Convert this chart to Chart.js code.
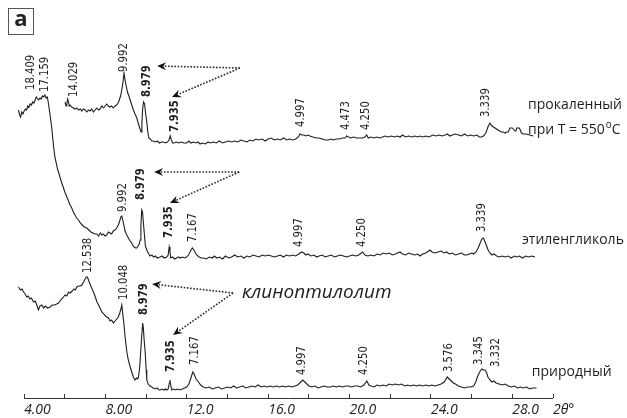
<!DOCTYPE html>
<html><head><meta charset="utf-8">
<script src="https://cdn.jsdelivr.net/npm/chart.js@4.4.1/dist/chart.umd.min.js"></script>
<style>html,body{margin:0;padding:0;background:#fff;}canvas{display:block;}</style>
</head><body>
<canvas id="c" width="627" height="418"></canvas>
<script>
// ---- x axis ticks (2θ, degrees) ----
const tickValues = [4,6,8,10,12,14,16,18,20,22,24,26,28,30];
const tickLabels = ['4.00','','8.00','','12.0','','16.0','','20.0','','24.0','','28.0','2θ°'];

// ---- природный (natural) ----
const natTheta = [3.72,3.82,3.90,3.97,4.05,4.13,4.20,4.28,4.36,4.46,4.55,4.62,4.70,4.78,4.87,4.95,5.05,5.15,5.28,5.38,5.50,5.60,5.69,5.80,5.90,6.01,6.10,6.18,6.26,6.36,6.45,6.52,6.59,6.68,6.76,6.84,6.92,7.00,7.05,7.11,7.18,7.26,7.34,7.41,7.50,7.58,7.66,7.73,7.82,7.92,8.00,8.06,8.15,8.22,8.30,8.39,8.47,8.55,8.63,8.70,8.76,8.80,8.85,8.91,8.98,9.05,9.12,9.20,9.29,9.37,9.45,9.52,9.58,9.62,9.68,9.73,9.78,9.83,9.86,9.90,9.95,10.00,10.03,10.10,10.18,10.27,10.35,10.45,10.55,10.62,10.68,10.78,10.88,10.95,11.01,11.08,11.14,11.17,11.22,11.26,11.35,11.45,11.55,11.67,11.78,11.88,11.99,12.10,12.20,12.29,12.36,12.45,12.57,12.68,12.80,12.95,13.10,13.25,13.40,13.55,13.70,13.85,14.00,14.15,14.30,14.45,14.60,14.75,14.90,15.05,15.20,15.35,15.50,15.65,15.80,15.95,16.10,16.25,16.40,16.55,16.70,16.85,17.00,17.15,17.30,17.45,17.60,17.70,17.80,17.90,18.00,18.15,18.30,18.45,18.60,18.75,18.90,19.05,19.20,19.35,19.50,19.65,19.80,19.95,20.10,20.25,20.40,20.55,20.70,20.85,20.95,21.05,21.20,21.35,21.50,21.65,21.80,21.95,22.10,22.25,22.40,22.55,22.70,22.85,23.00,23.15,23.30,23.45,23.60,23.75,23.90,24.05,24.20,24.35,24.50,24.65,24.80,24.90,25.00,25.10,25.20,25.35,25.50,25.65,25.80,25.95,26.10,26.20,26.30,26.42,26.50,26.58,26.66,26.74,26.80,26.90,27.00,27.10,27.20,27.35,27.50,27.65,27.80,27.95,28.10,28.25,28.40,28.55,28.70,28.85,29.00,29.19];
const natI = [111,108,109,106,104,101,102,99,100,96,97,93,88,92,93,90,92,90,91,93,93,94,95,98,100,103,102,106,105,107,109,108,111,112,112,113,116,119,121,121,117,113,109,106,101,96,93,90,86,84,82,81,80,77,78,75,77,79,81,85,89,93,84,73,58,46,38,32,26,21,18,20,19,21,30,46,62,75,70,58,46,28,18,14,12,11,10,9,10,8,8,9,8,9,8,9,15,18,11,8,9,8,9,8,9,10,11,14,20,26,24,19,16,13,11,10,11,9,10,11,9,10,11,10,12,10,11,12,10,11,12,11,13,11,12,11,12,11,12,11,12,11,12,11,12,13,16,18,16,14,12,11,12,10,11,12,11,11,12,11,12,11,12,12,11,12,12,11,13,17,13,12,11,13,12,13,12,14,13,14,13,14,12,13,12,13,12,13,12,13,12,13,12,13,14,16,21,19,17,15,14,12,11,10,11,11,12,16,22,27,29,28,28,25,21,18,16,17,15,14,13,14,12,11,12,10,11,10,11,9,10,10];

// ---- этиленгликоль (ethylene glycol) ----
const egTheta = [3.72,3.78,3.83,3.88,3.94,4.00,4.06,4.12,4.18,4.24,4.30,4.36,4.42,4.48,4.54,4.60,4.66,4.72,4.78,4.84,4.90,4.96,5.02,5.08,5.14,5.20,5.24,5.30,5.36,5.40,5.44,5.48,5.52,5.58,5.64,5.69,5.76,5.85,5.92,6.00,6.10,6.18,6.26,6.34,6.42,6.50,6.58,6.67,6.76,6.86,6.96,7.08,7.18,7.28,7.38,7.48,7.57,7.66,7.74,7.82,7.90,7.98,8.06,8.14,8.23,8.30,8.38,8.47,8.55,8.63,8.70,8.75,8.80,8.85,8.90,8.96,9.05,9.15,9.22,9.29,9.36,9.42,9.48,9.54,9.60,9.66,9.70,9.74,9.78,9.82,9.86,9.91,9.96,10.03,10.10,10.19,10.28,10.36,10.45,10.55,10.68,10.78,10.88,11.01,11.08,11.13,11.17,11.21,11.30,11.40,11.50,11.60,11.67,11.78,11.88,11.99,12.08,12.18,12.27,12.35,12.42,12.49,12.60,12.70,12.81,12.95,13.10,13.25,13.35,13.47,13.60,13.75,13.90,14.05,14.20,14.35,14.50,14.65,14.80,14.95,15.10,15.25,15.40,15.55,15.70,15.85,16.00,16.15,16.30,16.45,16.60,16.75,16.90,17.05,17.20,17.35,17.50,17.65,17.75,17.85,17.95,18.10,18.25,18.38,18.50,18.65,18.80,18.95,19.10,19.25,19.40,19.55,19.70,19.85,20.00,20.15,20.30,20.45,20.64,20.75,20.90,21.05,21.20,21.35,21.50,21.65,21.80,21.95,22.10,22.25,22.48,22.60,22.75,22.90,23.05,23.20,23.35,23.46,23.60,23.75,23.95,24.05,24.20,24.35,24.50,24.65,24.77,24.90,25.05,25.20,25.35,25.50,25.65,25.75,25.90,26.00,26.10,26.22,26.32,26.42,26.50,26.58,26.66,26.74,26.81,26.90,27.00,27.10,27.23,27.35,27.50,27.65,27.80,27.95,28.10,28.21,28.35,28.50,28.65,28.80,28.95,29.11];
const egI = [288,283,281,286,284,287,289,288,292,291,294,293,296,295,298,301,299,298,300,299,302,301,303,300,301,294,288,279,270,261,253,246,240,235,229,226,221,215,211,206,201,197,193,190,186,183,180,178,175,173,171,170,168,166,165,164,164,162,165,163,164,162,163,166,165,164,167,168,170,173,177,181,182,178,173,167,163,159,157,155,152,151,150,150,152,154,158,172,188,186,176,164,152,148,145,142,143,141,142,140,141,142,140,141,143,151,146,140,141,139,140,141,140,141,140,141,143,147,150,148,145,143,141,140,140,139,141,140,142,140,141,139,142,140,141,143,141,142,140,142,141,143,142,141,143,142,143,142,141,142,143,141,143,142,143,142,144,146,145,143,144,142,143,141,142,143,141,142,143,141,142,143,142,141,142,143,142,143,146,143,142,143,142,144,143,145,144,145,143,144,146,144,143,145,144,143,144,142,144,145,148,146,145,146,147,145,146,144,145,143,144,145,143,143,144,145,144,146,150,155,159,160,156,152,148,145,143,144,142,141,142,141,142,140,142,141,142,140,142,141,142,141];

// ---- прокаленный при T = 550°C (calcined) ----
const calTheta = [6.01,6.06,6.10,6.14,6.18,6.22,6.26,6.34,6.42,6.50,6.59,6.68,6.76,6.84,6.91,7.00,7.08,7.16,7.24,7.32,7.41,7.49,7.57,7.65,7.73,7.82,7.90,7.98,8.06,8.14,8.22,8.30,8.38,8.47,8.55,8.62,8.68,8.74,8.80,8.86,8.91,8.96,9.02,9.08,9.15,9.21,9.29,9.37,9.45,9.54,9.62,9.70,9.75,9.79,9.83,9.87,9.92,9.97,10.03,10.08,10.13,10.20,10.28,10.35,10.45,10.55,10.65,10.75,10.85,10.95,11.05,11.12,11.18,11.24,11.30,11.37,11.48,11.60,11.72,11.85,11.99,12.10,12.20,12.32,12.45,12.55,12.65,12.75,12.90,13.05,13.14,13.30,13.45,13.60,13.75,13.90,14.05,14.20,14.35,14.50,14.65,14.80,14.95,15.10,15.25,15.40,15.55,15.70,15.85,16.00,16.15,16.30,16.45,16.60,16.75,16.91,17.05,17.20,17.35,17.48,17.56,17.65,17.75,17.85,17.95,18.05,18.20,18.38,18.50,18.65,18.80,18.95,19.10,19.20,19.35,19.50,19.65,19.78,19.86,19.95,20.05,20.20,20.35,20.50,20.65,20.75,20.84,20.92,21.05,21.20,21.35,21.49,21.62,21.75,21.90,22.05,22.20,22.35,22.48,22.60,22.75,22.90,23.05,23.20,23.35,23.46,23.60,23.75,23.90,24.00,24.11,24.25,24.40,24.55,24.70,24.80,24.93,25.05,25.20,25.35,25.50,25.65,25.80,25.95,26.10,26.25,26.38,26.49,26.58,26.70,26.80,26.90,27.00,27.15,27.30,27.45,27.55,27.65,27.72,27.80,27.88,28.00,28.13,28.18,28.21,28.35,28.45,28.54,28.70,28.85,29.03];
const calI = [296,292,294,299,296,292,293,291,290,289,290,288,289,287,289,288,286,288,287,289,286,288,290,288,289,292,290,292,294,292,291,292,290,292,293,295,298,302,308,316,325,318,312,306,302,298,293,288,284,280,274,269,266,275,290,296,294,285,276,266,260,259,257,257,256,257,255,256,256,255,256,258,262,258,255,255,256,255,256,255,255,257,255,256,255,256,254,255,254,256,255,256,255,257,255,256,257,256,257,256,258,257,256,258,257,259,258,259,257,259,260,258,259,258,260,258,259,258,259,261,264,263,263,262,263,262,261,260,260,259,258,258,259,258,259,259,260,260,262,261,260,261,260,260,260,261,263,260,261,260,261,260,261,262,261,262,261,262,261,263,261,262,261,262,261,262,261,262,261,262,263,262,263,262,263,264,262,263,264,263,262,264,262,263,262,263,261,261,262,265,271,275,272,270,268,266,266,265,266,266,270,270,267,267,270,270,265,264,264,263,262,261,259];

// ---- peak d-spacing annotations: text, 2θ, intensity at text start, bold ----
const peakText  = ['18.409','17.159','14.029','9.992','8.979','7.935','4.997','4.473','4.250','3.339',
                   '9.992','8.979','7.935','7.167','4.997','4.250','3.339',
                   '12.538','10.048','8.979','7.935','7.167','4.997','4.250','3.576','3.345','3.332'];
const peakTheta = [4.34,5.03,6.41,8.91,10.00,11.42,17.61,19.82,20.81,26.70,
                   8.82,9.75,11.08,12.30,17.51,20.61,26.51,
                   7.14,8.91,9.85,11.22,12.40,17.66,20.71,24.88,26.36,27.19];
const peakBase  = [308,306,301,326,301,266,271,268,268,281,
                   186,198,160,156,151,151,166,
                   125,98,83,26,33,23,23,26,33,31];
const peakBold  = [0,0,0,0,1,1,0,0,0,0, 0,1,1,0,0,0,0, 0,0,1,1,0,0,0,0,0,0];

// ---- series names: text, 2θ of left edge, intensity of text centre ----
const seriesText  = ['прокаленный','при T = 550','этиленгликоль','природный'];
const seriesTheta = [28.77,28.77,28.47,28.96];
const seriesPos   = [293,268,158,26];
const mineralText = 'клиноптилолит';
const mineralTheta = 14.71, mineralPos = 105;

// ---- dotted arrows: apex -> tips (2θ, intensity) ----
const arrowApexTheta = [14.61,14.57,14.27];
const arrowApexI     = [330,226,105];
const arrowTip1Theta = [10.54,10.39,10.29];
const arrowTip1I     = [332,226,114];
const arrowTip2Theta = [11.27,11.17,11.32];
const arrowTip2I     = [301,195,63];

const toPts = (xs, ys) => xs.map((x, i) => ({x, y: ys[i]}));
const ink = '#1e1e1e';

function arrow(ctx, x0, y0, x1, y1) {
  ctx.save();
  ctx.strokeStyle = '#2a2a2a';
  ctx.lineWidth = 1.6;
  ctx.setLineDash([1.6, 1.6]);
  const ang = Math.atan2(y1 - y0, x1 - x0);
  const L = 9;
  const ex = x1 - Math.cos(ang) * (L - 2), ey = y1 - Math.sin(ang) * (L - 2);
  ctx.beginPath(); ctx.moveTo(x0, y0); ctx.lineTo(ex, ey); ctx.stroke();
  ctx.setLineDash([]);
  ctx.fillStyle = '#111';
  ctx.translate(x1, y1); ctx.rotate(ang);
  ctx.beginPath();
  ctx.moveTo(0, 0); ctx.lineTo(-L, -4); ctx.lineTo(-L + 3, 0); ctx.lineTo(-L, 4); ctx.closePath();
  ctx.fill();
  ctx.restore();
}

const annot = {
  id: 'annot',
  afterDraw(chart) {
    const ctx = chart.ctx, xs = chart.scales.x, ys = chart.scales.y;
    const X = v => xs.getPixelForValue(v), Y = v => ys.getPixelForValue(v);
    ctx.save();
    // axis line from first to last tick
    ctx.strokeStyle = '#333'; ctx.lineWidth = 1;
    ctx.beginPath();
    ctx.moveTo(X(tickValues[0]), Math.round(xs.top) + 0.5);
    ctx.lineTo(X(tickValues[tickValues.length - 1]), Math.round(xs.top) + 0.5);
    ctx.stroke();
    // peak labels (condensed, rotated)
    ctx.fillStyle = ink; ctx.textAlign = 'left'; ctx.textBaseline = 'middle';
    peakText.forEach((t, i) => {
      ctx.save();
      ctx.translate(X(peakTheta[i]), Y(peakBase[i]));
      ctx.rotate(-Math.PI / 2);
      ctx.scale(0.86, 1);
      ctx.font = (peakBold[i] ? 'bold ' : '') + '13px "Liberation Sans Narrow", "DejaVu Sans Condensed", "Roboto", sans-serif';
      ctx.fillText(t, 0, 0);
      ctx.restore();
    });
    // series labels
    const sFont = '14px "Open Sans", sans-serif';
    ctx.font = sFont;
    seriesText.forEach((t, i) => {
      ctx.font = sFont;
      ctx.fillText(t, X(seriesTheta[i]), Y(seriesPos[i]));
      if (i === 1) {
        const w = ctx.measureText(t).width;
        ctx.font = '10px "Open Sans", sans-serif';
        ctx.fillText('o', X(seriesTheta[i]) + w + 1, Y(seriesPos[i]) - 5);
        const w2 = ctx.measureText('o').width;
        ctx.font = sFont;
        ctx.fillText('C', X(seriesTheta[i]) + w + w2 + 1, Y(seriesPos[i]));
      }
    });
    ctx.font = 'italic 19px "Open Sans", sans-serif';
    ctx.fillText(mineralText, X(mineralTheta), Y(mineralPos));
    // arrows
    for (let i = 0; i < arrowApexTheta.length; i++) {
      arrow(ctx, X(arrowApexTheta[i]), Y(arrowApexI[i]), X(arrowTip1Theta[i]), Y(arrowTip1I[i]));
      arrow(ctx, X(arrowApexTheta[i]), Y(arrowApexI[i]), X(arrowTip2Theta[i]), Y(arrowTip2I[i]));
    }
    // panel letter box
    const bx = chart.chartArea.left - 8, by = chart.chartArea.top + 8;
    ctx.strokeStyle = '#555'; ctx.lineWidth = 1;
    ctx.strokeRect(bx + 0.5, by + 0.5, 25, 26);
    ctx.font = 'bold 22px "Open Sans", sans-serif';
    ctx.textAlign = 'center';
    ctx.fillStyle = '#222';
    ctx.fillText('a', bx + 13, by + 12);
    ctx.restore();
  }
};

const ds = (xs, ys) => ({
  data: toPts(xs, ys), borderColor: ink, borderWidth: 1.1, pointRadius: 0,
  tension: 0, fill: false, clip: false
});

new Chart(document.getElementById('c'), {
  type: 'line',
  data: { datasets: [ds(natTheta, natI), ds(egTheta, egI), ds(calTheta, calI)] },
  options: {
    responsive: false, animation: false, events: [],
    layout: { padding: { left: 16, right: 74, top: 0, bottom: 0 } },
    plugins: { legend: { display: false }, tooltip: { enabled: false } },
    scales: {
      x: {
        type: 'linear', position: 'bottom', min: 3.6, max: 30,
        afterBuildTicks: s => { s.ticks = tickValues.map(v => ({ value: v })); },
        afterFit: s => { s.height = 20; },
        border: { display: false },
        grid: { drawOnChartArea: false, drawTicks: true, tickLength: -4, color: '#333', lineWidth: 1 },
        ticks: {
          autoSkip: false, maxRotation: 0, align: 'start', padding: 8, color: '#222',
          font: { family: '"Open Sans", sans-serif', size: 14, style: 'italic' },
          callback: (v) => { const k = tickValues.indexOf(v); return k >= 0 ? tickLabels[k] : ''; }
        }
      },
      y: { display: false, min: 0, max: 398 }
    }
  },
  plugins: [annot]
});
</script>
</body></html>
